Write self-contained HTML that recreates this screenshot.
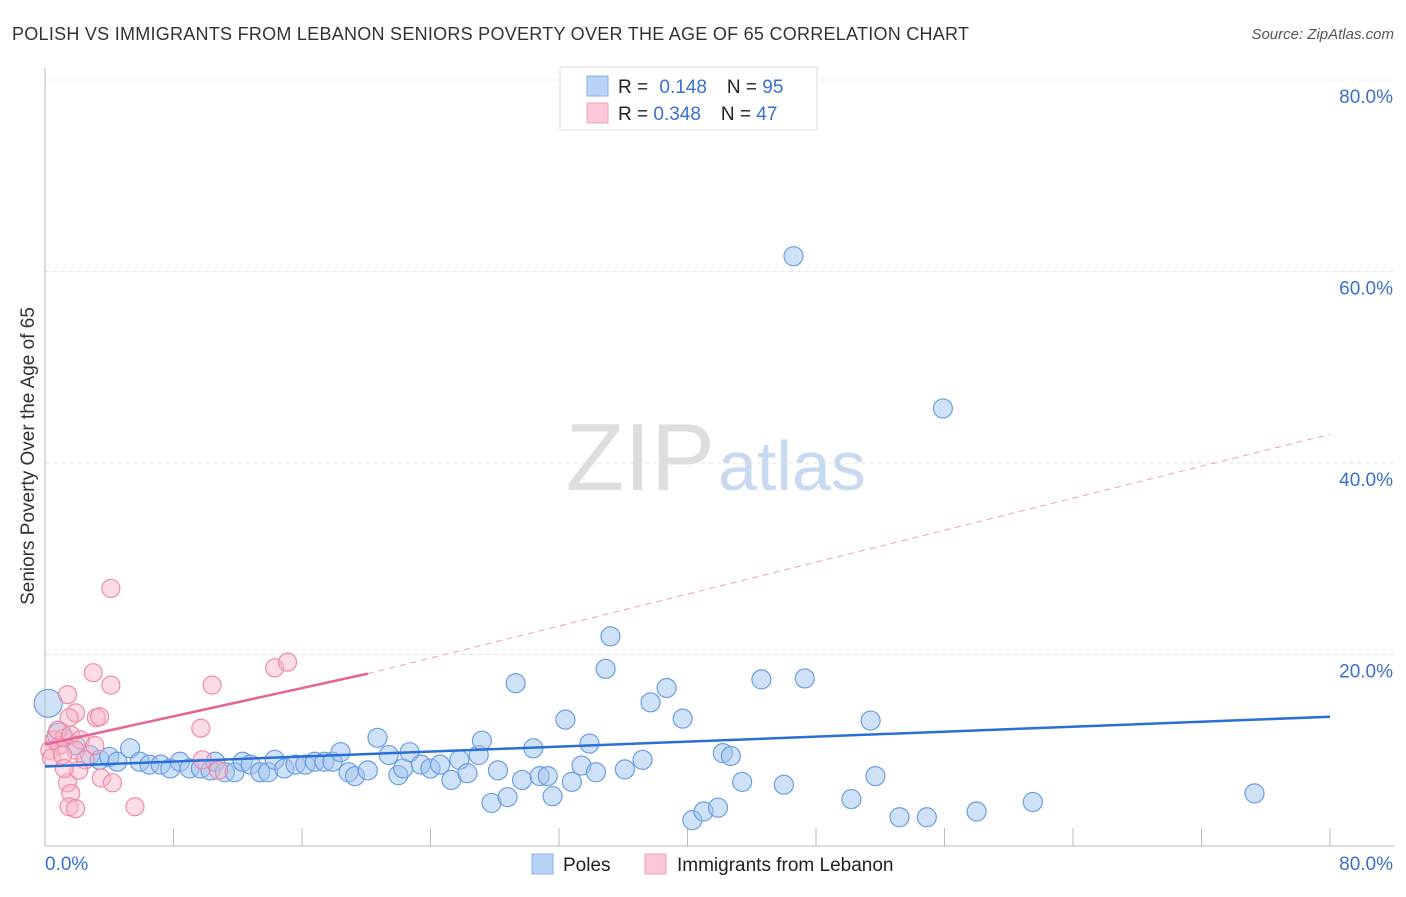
<!DOCTYPE html>
<html><head><meta charset="utf-8"><style>
body{margin:0;background:#fff;font-family:"Liberation Sans",sans-serif}
svg text{font-family:"Liberation Sans",sans-serif}
</style></head><body>
<svg id="chart" width="1406" height="892">
<text x="12" y="40" font-size="18" textLength="957" fill="#333">POLISH VS IMMIGRANTS FROM LEBANON SENIORS POVERTY OVER THE AGE OF 65 CORRELATION CHART</text>
<text x="1394" y="39" font-size="15" fill="#555" text-anchor="end" font-style="italic">Source: ZipAtlas.com</text>
<text x="34" y="456" font-size="19" fill="#333" text-anchor="middle" transform="rotate(-90 34 456)">Seniors Poverty Over the Age of 65</text>
<g id="grid"></g>
<text x="715" y="490" font-size="96" fill="#ddd" text-anchor="end" font-family="Liberation Serif">ZIP</text>
<text x="718" y="490" font-size="70" fill="#c8daf2">atlas</text>
<g id="marks"></g>
<g>
<rect x="560" y="67" width="257" height="63" fill="#fff" stroke="#ddd"/>
<rect x="587" y="76" width="21" height="20" fill="#b8d3f5" stroke="#8ab0e6"/>
<rect x="587" y="103" width="21" height="20" fill="#fbc8d7" stroke="#f0a0ba"/>
<text x="618" y="93" font-size="19" fill="#222">R = <tspan fill="#3a6fd0" dx="6">0.148</tspan><tspan dx="20" fill="#222">N = </tspan><tspan fill="#3a6fd0">95</tspan></text>
<text x="618" y="120" font-size="19" fill="#222">R = <tspan fill="#3a6fd0">0.348</tspan><tspan dx="20" fill="#222">N = </tspan><tspan fill="#3a6fd0">47</tspan></text>
</g>
<g>
<rect x="532" y="854" width="21" height="20" fill="#b8d3f5" stroke="#8ab0e6"/>
<text x="563" y="871" font-size="19" fill="#222">Poles</text>
<rect x="645" y="854" width="21" height="20" fill="#fbc8d7" stroke="#f0a0ba"/>
<text x="677" y="871" font-size="19" fill="#222">Immigrants from Lebanon</text>
</g>
</svg>
<script>
const yTicks=[20,40,60,80];
const yTickLabels=["20.0%","40.0%","60.0%","80.0%"];
const xTickLabels=["0.0%","80.0%"];
const polesX=[0.2,0.9,1.9,2.8,3.4,4.0,4.5,5.3,5.9,6.5,7.2,7.8,8.4,9.0,9.7,10.3,10.6,11.2,11.8,12.3,12.8,13.4,13.9,14.3,14.9,15.6,16.2,16.8,17.4,17.9,18.4,18.9,19.3,20.1,20.7,21.4,22.0,22.3,22.7,23.4,24.0,24.6,25.3,25.8,26.3,27.0,27.2,27.8,28.2,28.8,29.3,29.7,30.4,30.8,31.3,31.6,32.4,32.8,33.4,33.9,34.3,34.9,35.2,36.1,37.2,37.7,38.7,39.7,40.3,41.0,41.9,42.2,42.7,43.4,44.6,46.0,46.6,47.3,50.2,51.4,51.7,53.2,54.9,55.9,58.0,61.5,75.3];
const polesY=[14.9,11.6,10.5,9.5,9.0,9.3,8.8,10.2,8.8,8.5,8.5,8.1,8.8,8.1,8.1,7.9,8.8,7.7,7.7,8.8,8.5,7.7,7.7,9.0,8.1,8.5,8.5,8.8,8.8,8.8,9.8,7.7,7.3,7.9,11.3,9.5,7.4,8.1,9.8,8.5,8.1,8.5,6.9,9.0,7.6,9.5,11.0,4.5,7.9,5.1,17.0,6.9,10.2,7.3,7.3,5.2,13.2,6.7,8.4,10.7,7.7,18.5,21.9,8.0,9.0,15.0,16.5,13.3,2.7,3.6,4.0,9.7,9.4,6.7,17.4,6.4,61.6,17.5,4.9,13.1,7.3,3.0,3.0,45.7,3.6,4.6,5.5];
const lebX=[4.1,3.0,4.1,1.4,10.4,14.3,15.1,9.7,3.2,3.4,1.9,1.5,9.8,10.8,3.5,4.2,1.4,1.6,1.5,1.9,5.6,0.6,0.3,0.9,1.2,0.8,1.6,2.2,1.9,0.4,1.1,2.5,2.1,1.2,3.1];
const lebY=[26.9,18.1,16.8,15.8,16.8,18.6,19.2,12.3,13.4,13.5,13.9,13.4,9.0,7.9,7.1,6.6,6.6,5.5,4.1,3.9,4.1,11.1,10.0,10.5,11.3,12.1,11.6,11.1,10.0,9.2,9.5,9.0,7.9,8.1,10.5];
const polesTrend=[0,8.3,80,13.5];
const lebTrend=[0,10.6,20.1,18.0,80,43.0];
const NS="http://www.w3.org/2000/svg";
const X=v=>45+v/80*1285, Y=v=>846-v/80*766;
const grid=document.getElementById('grid'), marks=document.getElementById('marks');
function mk(p,tag,at){const e=document.createElementNS(NS,tag);for(const k in at)e.setAttribute(k,at[k]);p.appendChild(e);return e;}
yTicks.forEach((t,i)=>{
 const l=mk(grid,'line',{x1:45,x2:1394,y1:Y(t),y2:Y(t),stroke:'#e2e2e2','stroke-dasharray':'4,4'});
 
 
 const tx=mk(grid,'text',{x:1393,y:Y(t)+23,'font-size':19,fill:'#3a6fd0','text-anchor':'end'});tx.textContent=yTickLabels[i];
 
 
});
mk(grid,'line',{x1:45,x2:45,y1:68,y2:846,stroke:'#bbb'});
mk(grid,'line',{x1:45,x2:1394,y1:846,y2:846,stroke:'#bbb'});
for(let i=0;i<=10;i++){mk(grid,'line',{x1:X(i*8),x2:X(i*8),y1:828,y2:846,stroke:'#bbb'});}
const xl0=mk(grid,'text',{x:45,y:870,'font-size':19,fill:'#3a6fd0'});xl0.textContent=xTickLabels[0];


const xl1=mk(grid,'text',{x:1393,y:870,'font-size':19,fill:'#3a6fd0','text-anchor':'end'});xl1.textContent=xTickLabels[1];


polesX.forEach((v,i)=>{const c=mk(marks,'circle',{cx:X(v),cy:Y(polesY[i]),r:i==0?14:(i==1?12:9.5),fill:'rgba(160,196,240,0.5)',stroke:'#6b9ee2','stroke-width':1.2});
 
 });
lebX.forEach((v,i)=>{const c=mk(marks,'circle',{cx:X(v),cy:Y(lebY[i]),r:9,fill:'rgba(248,180,200,0.45)',stroke:'#ee8aa8','stroke-width':1.2});
 
 });
const pl=mk(marks,'line',{x1:X(polesTrend[0]),y1:Y(polesTrend[1]),x2:X(polesTrend[2]),y2:Y(polesTrend[3]),stroke:'#2a6fd6','stroke-width':2.5});


const ll=mk(marks,'line',{x1:X(lebTrend[0]),y1:Y(lebTrend[1]),x2:X(lebTrend[2]),y2:Y(lebTrend[3]),stroke:'#e8648f','stroke-width':2.5});


const ld=mk(marks,'line',{x1:X(lebTrend[2]),y1:Y(lebTrend[3]),x2:X(lebTrend[4]),y2:Y(lebTrend[5]),stroke:'#e8a0b8','stroke-width':1,'stroke-dasharray':'6,5'});


</script>
</body></html>
